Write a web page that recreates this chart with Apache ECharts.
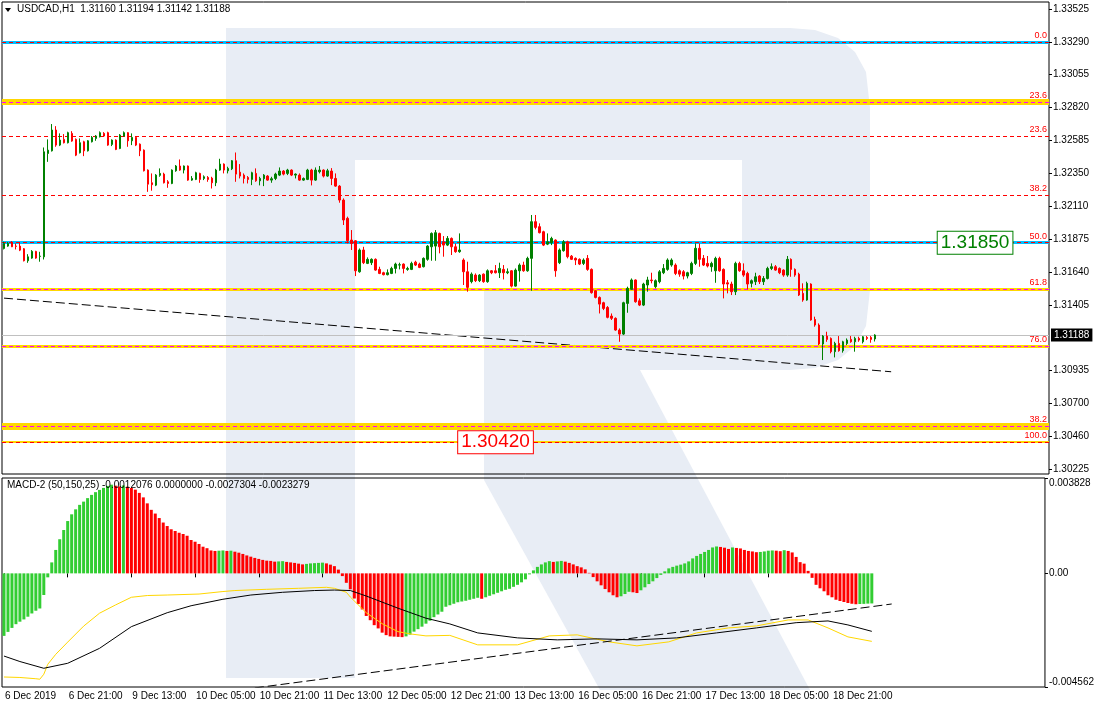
<!DOCTYPE html>
<html><head><meta charset="utf-8">
<script src="https://cdn.jsdelivr.net/npm/echarts@6/dist/echarts.min.js"></script>
<style>html,body{margin:0;padding:0;background:#fff}#c{width:1097px;height:710px}</style>
</head><body><div id="c"></div>
<script>
// ---------- DATA ----------
const xTickLabels = ['6 Dec 2019','6 Dec 21:00','9 Dec 13:00','10 Dec 05:00','10 Dec 21:00','11 Dec 13:00','12 Dec 05:00','12 Dec 21:00','13 Dec 13:00','16 Dec 05:00','16 Dec 21:00','17 Dec 13:00','18 Dec 05:00','18 Dec 21:00'];
const priceTicks = [1.30225,1.30460,1.30700,1.30935,1.31405,1.31640,1.31875,1.32110,1.32350,1.32585,1.32820,1.33055,1.33290,1.33525];
const macdTicks = [0.003828, 0, -0.004562];
const lastPrice = 1.31188;
// [open, close, low, high]
const candlesOCLH = [
[1.31809,1.31845,1.31802,1.31857],[1.31826,1.31845,1.31821,1.31855],[1.31850,1.31821,1.31819,1.31862],[1.31826,1.31824,1.31802,1.31845],
[1.31826,1.31797,1.31790,1.31850],[1.31807,1.31721,1.31716,1.31812],[1.31721,1.31749,1.31706,1.31768],[1.31740,1.31788,1.31735,1.31797],
[1.31788,1.31740,1.31735,1.31792],[1.31752,1.31754,1.31714,1.31785],[1.31749,1.32502,1.31730,1.32533],[1.32490,1.32514,1.32430,1.32591],
[1.32509,1.32658,1.32504,1.32701],[1.32658,1.32550,1.32538,1.32686],[1.32550,1.32586,1.32543,1.32634],[1.32591,1.32567,1.32562,1.32629],
[1.32567,1.32639,1.32562,1.32646],[1.32634,1.32579,1.32574,1.32650],[1.32591,1.32478,1.32471,1.32598],[1.32495,1.32567,1.32490,1.32598],
[1.32574,1.32509,1.32471,1.32581],[1.32509,1.32581,1.32504,1.32586],[1.32574,1.32605,1.32569,1.32615],[1.32598,1.32615,1.32581,1.32622],
[1.32610,1.32639,1.32605,1.32648],[1.32634,1.32615,1.32610,1.32643],[1.32639,1.32550,1.32545,1.32646],[1.32555,1.32586,1.32543,1.32591],
[1.32586,1.32519,1.32514,1.32591],[1.32526,1.32622,1.32521,1.32629],[1.32615,1.32639,1.32610,1.32648],[1.32639,1.32581,1.32538,1.32643],
[1.32581,1.32605,1.32550,1.32634],[1.32605,1.32550,1.32543,1.32610],[1.32557,1.32509,1.32471,1.32562],[1.32514,1.32366,1.32361,1.32519],
[1.32371,1.32270,1.32215,1.32376],[1.32280,1.32266,1.32223,1.32347],[1.32263,1.32335,1.32256,1.32342],[1.32333,1.32347,1.32323,1.32383],
[1.32342,1.32280,1.32275,1.32352],[1.32287,1.32275,1.32244,1.32299],[1.32275,1.32371,1.32270,1.32376],[1.32366,1.32400,1.32359,1.32407],
[1.32400,1.32371,1.32366,1.32447],[1.32371,1.32400,1.32347,1.32404],[1.32400,1.32299,1.32294,1.32404],[1.32299,1.32311,1.32294,1.32328],
[1.32304,1.32352,1.32299,1.32359],[1.32347,1.32304,1.32280,1.32352],[1.32311,1.32323,1.32299,1.32333],[1.32318,1.32304,1.32287,1.32328],
[1.32313,1.32280,1.32239,1.32323],[1.32280,1.32371,1.32256,1.32380],[1.32371,1.32414,1.32366,1.32452],[1.32414,1.32371,1.32347,1.32419],
[1.32366,1.32383,1.32347,1.32395],[1.32380,1.32438,1.32371,1.32443],[1.32438,1.32342,1.32287,1.32497],[1.32356,1.32328,1.32311,1.32414],
[1.32335,1.32311,1.32275,1.32347],[1.32318,1.32304,1.32275,1.32328],[1.32304,1.32352,1.32263,1.32359],[1.32347,1.32294,1.32287,1.32383],
[1.32294,1.32311,1.32261,1.32323],[1.32309,1.32335,1.32256,1.32342],[1.32328,1.32299,1.32294,1.32335],[1.32299,1.32309,1.32280,1.32323],
[1.32311,1.32342,1.32299,1.32352],[1.32335,1.32364,1.32328,1.32390],[1.32364,1.32342,1.32333,1.32371],[1.32347,1.32371,1.32335,1.32380],
[1.32371,1.32335,1.32328,1.32376],[1.32335,1.32342,1.32311,1.32347],[1.32335,1.32299,1.32294,1.32347],[1.32299,1.32311,1.32294,1.32318],
[1.32304,1.32371,1.32299,1.32380],[1.32371,1.32299,1.32261,1.32380],[1.32299,1.32371,1.32294,1.32390],[1.32359,1.32371,1.32347,1.32400],
[1.32371,1.32328,1.32318,1.32376],[1.32328,1.32366,1.32323,1.32380],[1.32364,1.32311,1.32263,1.32385],[1.32311,1.32256,1.32251,1.32347],
[1.32256,1.32156,1.32137,1.32263],[1.32156,1.32013,1.31977,1.32168],[1.32025,1.31864,1.31845,1.32037],[1.31869,1.31845,1.31798,1.31941],
[1.31864,1.31649,1.31611,1.31869],[1.31642,1.31798,1.31635,1.31809],[1.31798,1.31707,1.31697,1.31821],[1.31702,1.31731,1.31697,1.31745],
[1.31707,1.31731,1.31690,1.31738],[1.31731,1.31654,1.31649,1.31738],[1.31659,1.31630,1.31625,1.31678],[1.31635,1.31621,1.31616,1.31642],
[1.31621,1.31635,1.31616,1.31659],[1.31630,1.31666,1.31625,1.31678],[1.31666,1.31697,1.31630,1.31707],[1.31690,1.31692,1.31659,1.31707],
[1.31697,1.31666,1.31630,1.31702],[1.31659,1.31666,1.31649,1.31678],[1.31659,1.31702,1.31654,1.31714],[1.31711,1.31690,1.31683,1.31721],
[1.31697,1.31673,1.31668,1.31707],[1.31678,1.31738,1.31673,1.31745],[1.31731,1.31826,1.31721,1.31833],[1.31821,1.31917,1.31721,1.31924],
[1.31826,1.31922,1.31721,1.31941],[1.31917,1.31821,1.31774,1.31922],[1.31857,1.31833,1.31750,1.31898],[1.31833,1.31881,1.31826,1.31898],
[1.31881,1.31821,1.31762,1.31888],[1.31821,1.31786,1.31778,1.31845],[1.31786,1.31798,1.31778,1.31917],[1.31726,1.31642,1.31547,1.31738],
[1.31642,1.31530,1.31499,1.31714],[1.31571,1.31625,1.31559,1.31637],[1.31618,1.31578,1.31568,1.31630],[1.31578,1.31618,1.31568,1.31625],
[1.31625,1.31571,1.31563,1.31630],[1.31571,1.31649,1.31563,1.31659],[1.31649,1.31635,1.31625,1.31654],[1.31649,1.31635,1.31630,1.31690],
[1.31635,1.31666,1.31597,1.31707],[1.31659,1.31635,1.31587,1.31690],[1.31635,1.31642,1.31625,1.31666],[1.31649,1.31539,1.31530,1.31654],
[1.31539,1.31654,1.31535,1.31666],[1.31649,1.31690,1.31571,1.31702],[1.31690,1.31649,1.31642,1.31714],[1.31649,1.31738,1.31642,1.31750],
[1.31738,1.32001,1.31506,1.32049],[1.32001,1.31960,1.31946,1.32049],[1.31965,1.31922,1.31917,1.31989],[1.31929,1.31833,1.31826,1.31936],
[1.31840,1.31857,1.31833,1.31917],[1.31850,1.31881,1.31833,1.31893],[1.31869,1.31649,1.31606,1.31874],[1.31707,1.31798,1.31697,1.31809],
[1.31793,1.31857,1.31786,1.31869],[1.31857,1.31750,1.31738,1.31864],[1.31754,1.31731,1.31726,1.31762],[1.31738,1.31726,1.31690,1.31745],
[1.31731,1.31697,1.31690,1.31738],[1.31702,1.31726,1.31690,1.31738],[1.31738,1.31659,1.31649,1.31762],[1.31659,1.31492,1.31485,1.31666],
[1.31506,1.31458,1.31451,1.31511],[1.31458,1.31410,1.31343,1.31465],[1.31420,1.31379,1.31367,1.31427],[1.31386,1.31315,1.31308,1.31396],
[1.31324,1.31308,1.31296,1.31343],[1.31308,1.31224,1.31219,1.31315],[1.31224,1.31195,1.31140,1.31236],[1.31195,1.31420,1.31188,1.31427],
[1.31415,1.31523,1.31348,1.31535],[1.31516,1.31583,1.31511,1.31594],[1.31583,1.31427,1.31420,1.31587],[1.31434,1.31403,1.31396,1.31451],
[1.31403,1.31554,1.31396,1.31563],[1.31547,1.31583,1.31499,1.31606],[1.31583,1.31578,1.31559,1.31635],[1.31535,1.31578,1.31523,1.31587],
[1.31571,1.31642,1.31559,1.31654],[1.31635,1.31666,1.31625,1.31697],[1.31659,1.31726,1.31649,1.31738],[1.31690,1.31726,1.31678,1.31738],
[1.31690,1.31630,1.31618,1.31702],[1.31649,1.31625,1.31606,1.31659],[1.31642,1.31611,1.31587,1.31654],[1.31611,1.31635,1.31594,1.31642],
[1.31630,1.31702,1.31618,1.31714],[1.31702,1.31810,1.31690,1.31845],[1.31810,1.31731,1.31678,1.31845],[1.31738,1.31690,1.31683,1.31762],
[1.31702,1.31683,1.31673,1.31755],[1.31678,1.31702,1.31642,1.31714],[1.31649,1.31738,1.31563,1.31750],[1.31738,1.31649,1.31642,1.31750],
[1.31659,1.31554,1.31451,1.31666],[1.31563,1.31554,1.31487,1.31583],[1.31554,1.31499,1.31475,1.31571],[1.31499,1.31702,1.31475,1.31714],
[1.31702,1.31649,1.31642,1.31714],[1.31649,1.31618,1.31606,1.31702],[1.31630,1.31554,1.31516,1.31642],[1.31559,1.31578,1.31530,1.31587],
[1.31571,1.31606,1.31547,1.31635],[1.31611,1.31571,1.31554,1.31618],[1.31571,1.31594,1.31547,1.31611],[1.31594,1.31666,1.31587,1.31678],
[1.31666,1.31678,1.31654,1.31702],[1.31678,1.31654,1.31649,1.31690],[1.31666,1.31635,1.31625,1.31673],[1.31654,1.31618,1.31606,1.31659],
[1.31618,1.31731,1.31606,1.31755],[1.31731,1.31659,1.31606,1.31738],[1.31659,1.31618,1.31606,1.31666],[1.31625,1.31475,1.31468,1.31635],
[1.31487,1.31439,1.31427,1.31559],[1.31439,1.31559,1.31434,1.31571],[1.31554,1.31296,1.31291,1.31559],[1.31300,1.31260,1.31248,1.31320],
[1.31260,1.31124,1.31116,1.31272],[1.31124,1.31181,1.31009,1.31188],[1.31181,1.31157,1.31140,1.31212],[1.31164,1.31069,1.31057,1.31171],
[1.31069,1.31128,1.31028,1.31140],[1.31128,1.31076,1.31069,1.31181],[1.31076,1.31140,1.31062,1.31147],[1.31128,1.31152,1.31116,1.31164],
[1.31157,1.31140,1.31133,1.31181],[1.31140,1.31164,1.31069,1.31176],[1.31164,1.31152,1.31140,1.31176],[1.31140,1.31176,1.31128,1.31181],
[1.31171,1.31164,1.31152,1.31181],[1.31171,1.31157,1.31133,1.31181],[1.31160,1.31188,1.31142,1.31194]
];
const macdHist = [
-25.1e-4,-23.5e-4,-21.9e-4,-20.4e-4,-19.4e-4,-18.5e-4,-17.4e-4,-16.1e-4,-15.0e-4,-14.1e-4,-8.7e-4,-1.6e-4,4.4e-4,9.4e-4,13.7e-4,17.4e-4,
21.0e-4,23.7e-4,25.7e-4,27.5e-4,28.8e-4,30.2e-4,31.5e-4,32.6e-4,33.5e-4,34.3e-4,35.1e-4,35.6e-4,35.2e-4,34.9e-4,35.3e-4,34.8e-4,
34.3e-4,33.6e-4,32.3e-4,30.5e-4,28.1e-4,25.5e-4,24.0e-4,22.2e-4,20.4e-4,19.0e-4,17.7e-4,17.0e-4,16.3e-4,15.8e-4,15.1e-4,13.4e-4,
12.7e-4,11.8e-4,10.7e-4,10.1e-4,9.2e-4,9.0e-4,9.1e-4,9.2e-4,9.0e-4,9.1e-4,8.7e-4,8.3e-4,7.8e-4,7.2e-4,6.7e-4,6.2e-4,
5.8e-4,5.4e-4,5.1e-4,5.0e-4,4.7e-4,4.8e-4,4.9e-4,4.6e-4,4.4e-4,4.2e-4,3.9e-4,3.6e-4,3.8e-4,4.0e-4,4.1e-4,4.2e-4,
4.3e-4,4.0e-4,3.5e-4,2.9e-4,1.5e-4,-1.1e-4,-3.8e-4,-6.4e-4,-10.1e-4,-12.3e-4,-14.5e-4,-17.1e-4,-18.8e-4,-20.8e-4,-22.1e-4,-23.8e-4,
-24.8e-4,-25.3e-4,-25.4e-4,-25.5e-4,-25.6e-4,-25.3e-4,-24.6e-4,-23.4e-4,-22.4e-4,-21.4e-4,-20.2e-4,-19.0e-4,-17.6e-4,-16.5e-4,-15.4e-4,-13.4e-4,
-12.8e-4,-12.2e-4,-11.6e-4,-11.3e-4,-11.0e-4,-10.6e-4,-10.2e-4,-9.8e-4,-10.2e-4,-9.6e-4,-9.0e-4,-8.4e-4,-7.8e-4,-7.2e-4,-6.6e-4,-6.2e-4,
-5.4e-4,-4.6e-4,-3.6e-4,-2.4e-4,-0.4e-4,1.2e-4,2.6e-4,3.6e-4,4.4e-4,4.9e-4,4.6e-4,4.8e-4,5.0e-4,4.7e-4,4.2e-4,3.6e-4,
2.9e-4,2.4e-4,1.6e-4,0.2e-4,-1.5e-4,-3.2e-4,-4.8e-4,-6.3e-4,-7.6e-4,-8.8e-4,-9.6e-4,-9.2e-4,-8.3e-4,-7.4e-4,-7.6e-4,-7.9e-4,
-6.8e-4,-5.6e-4,-4.3e-4,-3.2e-4,-1.9e-4,-0.6e-4,0.8e-4,2.0e-4,2.6e-4,3.1e-4,3.5e-4,4.0e-4,4.8e-4,6.0e-4,7.0e-4,7.8e-4,
8.6e-4,9.4e-4,10.4e-4,10.8e-4,10.6e-4,10.3e-4,9.8e-4,10.4e-4,10.2e-4,10.0e-4,9.4e-4,9.0e-4,8.8e-4,8.5e-4,8.6e-4,8.8e-4,
9.1e-4,9.2e-4,9.1e-4,8.9e-4,9.3e-4,9.0e-4,8.4e-4,6.6e-4,4.5e-4,3.9e-4,1.0e-4,-1.8e-4,-4.6e-4,-6.0e-4,-7.2e-4,-8.8e-4,
-9.6e-4,-10.6e-4,-11.1e-4,-11.5e-4,-11.9e-4,-12.2e-4,-12.4e-4,-12.3e-4,-12.25e-4,-12.15e-4,-12.076e-4
];
// [bar index, value]
const macdYellow = [[0,-41.6e-4],[4,-41.8e-4],[8,-42.3e-4],[9,-42.5e-4],[10,-40.5e-4],[11,-36.5e-4],[13,-32.5e-4],[16,-27.6e-4],[20,-21.2e-4],[24,-16.0e-4],[28,-12.7e-4],[32,-9.6e-4],[36,-8.9e-4],[41,-8.7e-4],[49,-8.3e-4],[55,-7.3e-4],[58,-6.9e-4],[66,-6.4e-4],[74,-6.0e-4],[81,-5.6e-4],[83,-6.0e-4],[86,-7.6e-4],[87,-9.5e-4],[91,-15.8e-4],[95,-20.2e-4],[99,-23.4e-4],[102,-24.3e-4],[106,-25.1e-4],[112,-24.9e-4],[119,-28.7e-4],[129,-28.7e-4],[137,-25.1e-4],[144,-24.7e-4],[152,-27.5e-4],[159,-29.1e-4],[167,-27.5e-4],[174,-23.9e-4],[182,-21.9e-4],[189,-21.1e-4],[197,-18.7e-4],[202,-18.7e-4],[207,-21.9e-4],[212,-25.5e-4],[218,-27.304e-4]];
const macdBlack = [[0,-33.2e-4],[4,-35.4e-4],[10,-38.1e-4],[16,-36.1e-4],[24,-30.1e-4],[32,-21.4e-4],[41,-15.8e-4],[47,-13.0e-4],[55,-10.4e-4],[62,-8.7e-4],[70,-7.6e-4],[78,-6.9e-4],[83,-6.7e-4],[87,-6.9e-4],[91,-9.1e-4],[99,-14.0e-4],[106,-18.0e-4],[112,-20.3e-4],[119,-23.9e-4],[129,-25.9e-4],[139,-26.7e-4],[149,-26.3e-4],[159,-26.7e-4],[169,-25.9e-4],[179,-23.9e-4],[189,-21.9e-4],[199,-19.8e-4],[207,-19.1e-4],[212,-20.7e-4],[218,-23.279e-4]];
const priceTrend = [[0,1.31453],[222,1.30925]];
const macdTrend = [[63,-0.00460],[223,-0.00123]];
// Fibonacci levels: [label, price, band colour or null, band width, dash colour]
const fiboLevels = [
  ['0.0',   1.33290, '#00bfff', 3, '#ff0000'],
  ['23.6',  1.32858, '#ffd700', 6, '#ff00ff'],
  ['23.6',  1.32613, null, 0, '#ff0000'],
  ['38.2',  1.32194, null, 0, '#ff0000'],
  ['50.0',  1.31850, '#00bfff', 3, '#ff0000'],
  ['61.8',  1.31516, '#ffd700', 3, '#ff00ff'],
  ['76.0',  1.31109, '#ffd700', 3, '#ff00ff'],
  ['38.2',  1.30535, '#ffd700', 7, '#ff00ff'],
  ['100.0', 1.30420, '#ffd700', 2, '#ff0000']
];

// ---------- BUILD ----------
const NCAT = 262;
const MON = ['Jan','Feb','Mar','Apr','May','Jun','Jul','Aug','Sep','Oct','Nov','Dec'];
const cats = [];
let t = Date.UTC(2019, 11, 6, 5);
while (cats.length < NCAT) {
  const d = new Date(t), wd = d.getUTCDay();
  if (wd !== 0 && wd !== 6) cats.push(d.getUTCDate() + ' ' + MON[d.getUTCMonth()] + ' ' + String(d.getUTCHours()).padStart(2,'0') + ':00');
  t += 3600000;
}
const FONT = 'Liberation Sans, Arial, sans-serif';
const bands = [], dashes = [];
fiboLevels.forEach(([lab, p, bc, bw, dc]) => {
  if (bc) bands.push({ yAxis: p, lineStyle: { color: bc, width: bw, type: 'solid', opacity: 1 }, label: { show: false } });
  dashes.push({ yAxis: p, lineStyle: { color: dc, width: 1, type: [4, 3], opacity: 1 },
    label: { show: true, position: 'insideEndTop', formatter: lab, color: '#ff0000', fontSize: 9, fontFamily: FONT, distance: 2 } });
});
const lastLine = { yAxis: lastPrice, lineStyle: { color: '#c0c0c0', width: 1, type: 'solid', opacity: 1 },
  label: { show: true, position: 'end', formatter: lastPrice.toFixed(5), color: '#fff', backgroundColor: '#000', padding: [2, 3, 1, 3], fontSize: 10, fontFamily: FONT, distance: 2 } };

const histData = macdHist.map((v, i) => ({ value: v, itemStyle: { color: (i === 0 || v >= macdHist[i - 1]) ? '#32cd32' : '#ff0000' } }));

const chart = echarts.init(document.getElementById('c'), null, { renderer: 'canvas' });
const WM = '#e8edf5';
chart.setOption({
  animation: false,
  backgroundColor: '#fff',
  textStyle: { fontFamily: FONT },
  graphic: [
    { type: 'rect', z: -10, shape: { x: 226, y: 28, width: 129, height: 650 }, style: { fill: WM }, silent: true },
    { type: 'polygon', z: -10, shape: { points: [[355,28],[790,28],[815,30],[838,38],[855,52],[866,72],[870,108],[870,290],[866,326],[855,346],[838,360],[815,368],[790,370],[484,370],[484,291],[742,291],[742,160],[355,160]] }, style: { fill: WM }, silent: true },
    { type: 'polygon', z: -10, shape: { points: [[484,370],[640,370],[810,690],[600,690],[484,480]] }, style: { fill: WM }, silent: true },
    { type: 'polygon', z: 50, shape: { points: [[5,8],[11,8],[8,12]] }, style: { fill: '#000' }, silent: true },
    { type: 'text', z: 50, left: 17, top: 4, style: { text: 'USDCAD,H1  1.31160 1.31194 1.31142 1.31188', fill: '#000', font: '10px Liberation Sans' } },
    { type: 'text', z: 50, left: 7, top: 480, style: { text: 'MACD-2 (50,150,25) -0.0012076 0.0000000 -0.0027304 -0.0023279', fill: '#000', font: '10px Liberation Sans' } }
  ],
  grid: [
    { left: 2, right: 48, top: 2, height: 472, show: true, borderColor: '#000', borderWidth: 1, backgroundColor: 'transparent' },
    { left: 2, right: 48, top: 478, height: 209, show: true, borderColor: '#000', borderWidth: 1, backgroundColor: 'transparent' }
  ],
  xAxis: [
    { type: 'category', gridIndex: 0, data: cats, axisLine: { show: false }, axisTick: { show: false }, axisLabel: { show: false }, splitLine: { show: false } },
    { type: 'category', gridIndex: 1, data: cats, position: 'bottom', axisLine: { show: false },
      axisTick: { show: true, alignWithLabel: true, length: 4, interval: (i) => i % 16 === 0 && i <= 208, lineStyle: { color: '#000' } },
      axisLabel: { show: true, interval: (i) => i % 16 === 0 && i <= 208, formatter: (v, i) => xTickLabels[i / 16] || '', align: 'left', margin: 4, padding: [0, 0, 0, 1], color: '#000', fontSize: 10, fontFamily: FONT },
      splitLine: { show: false } }
  ],
  yAxis: [
    { type: 'value', gridIndex: 0, position: 'right', min: 1.30192, max: 1.33576, scale: true,
      axisLine: { show: false }, splitLine: { show: false },
      axisTick: { show: true, length: 3, customValues: priceTicks, lineStyle: { color: '#000' } },
      axisLabel: { show: true, customValues: priceTicks, formatter: (v) => v.toFixed(5), color: '#000', fontSize: 10, margin: 4, fontFamily: FONT } },
    { type: 'value', gridIndex: 1, position: 'right', min: -0.004562, max: 0.003828,
      axisLine: { show: false }, splitLine: { show: false },
      axisTick: { show: true, length: 3, customValues: macdTicks, lineStyle: { color: '#000' } },
      axisLabel: { show: true, customValues: macdTicks, color: '#000', fontSize: 10, margin: 4, fontFamily: FONT,
        formatter: (v) => v === 0 ? '0.00' : (v > 0 ? '{top|' + v.toFixed(6) + '}' : '{bot|' + v.toFixed(6) + '}'),
        rich: { top: { fontSize: 10, padding: [11, 0, 0, 0], fontFamily: FONT }, bot: { fontSize: 10, padding: [0, 0, 10, 0], fontFamily: FONT } } } }
  ],
  series: [
    { type: 'line', xAxisIndex: 0, yAxisIndex: 0, data: priceTrend, symbol: 'none', z: 1,
      lineStyle: { color: '#000', width: 1, type: [9, 4] },
      markLine: { silent: true, precision: 6, symbol: ['none', 'none'], animation: false, data: bands.concat(dashes).concat([lastLine]) } },
    { type: 'candlestick', xAxisIndex: 0, yAxisIndex: 0, barWidth: 2, z: 5,
      data: candlesOCLH.map(r => [r[0], r[1], r[2], r[3]]),
      itemStyle: { color: '#008000', color0: '#ff0000', borderColor: '#008000', borderColor0: '#ff0000', borderWidth: 1 },
      markPoint: { silent: true, symbol: 'rect', symbolSize: 0, z: 10, data: [
        { coord: [cats[243], 1.31850], label: { show: true, position: 'inside', formatter: '1.31850', color: '#008000', fontSize: 19, fontFamily: FONT, backgroundColor: '#fff', borderColor: '#008000', borderWidth: 1, padding: [2, 3, 1, 3] } },
        { coord: [cats[123], 1.30420], label: { show: true, position: 'inside', formatter: '1.30420', color: '#ff0000', fontSize: 19, fontFamily: FONT, backgroundColor: '#fff', borderColor: '#ff0000', borderWidth: 1, padding: [2, 3, 1, 3] } }
      ] } },
    { type: 'bar', xAxisIndex: 1, yAxisIndex: 1, data: histData, barWidth: 3, z: 2 },
    { type: 'line', xAxisIndex: 1, yAxisIndex: 1, data: macdYellow, symbol: 'none', z: 4, lineStyle: { color: '#ffd700', width: 1 } },
    { type: 'line', xAxisIndex: 1, yAxisIndex: 1, data: macdBlack, symbol: 'none', z: 4, lineStyle: { color: '#000', width: 1 } },
    { type: 'line', xAxisIndex: 1, yAxisIndex: 1, data: macdTrend, symbol: 'none', z: 4, clip: true, lineStyle: { color: '#000', width: 1, type: [9, 4] } }
  ]
});
</script></body></html>
